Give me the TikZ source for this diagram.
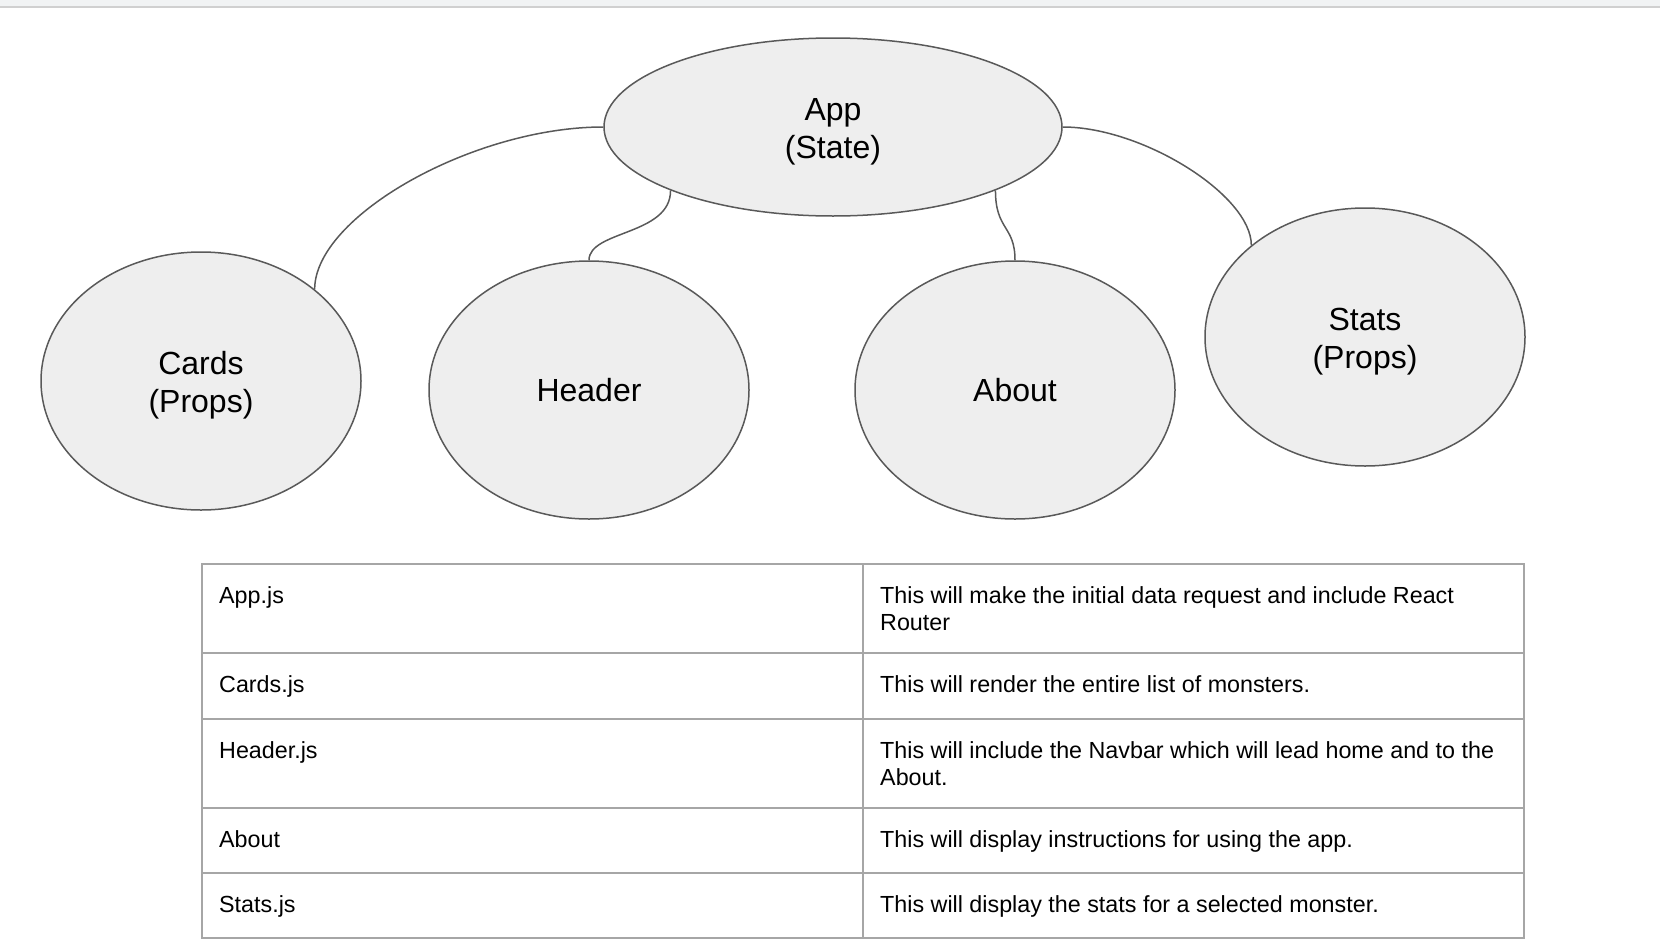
\documentclass[tikz,border=0pt]{standalone}
\usepackage{fontspec}
\setmainfont{Liberation Sans}
\usetikzlibrary{shapes.geometric}
\definecolor{edgec}{HTML}{595959}
\definecolor{fillc}{HTML}{EEEEEE}
\definecolor{gridc}{HTML}{A6A6A6}
\definecolor{bandc}{HTML}{F1F3F4}
\definecolor{bandl}{HTML}{D0D0D0}
\newcommand{\raiseby}{\rule{0pt}{32.5pt}}
\begin{document}
\begin{tikzpicture}[x=1pt,y=-1pt,
 bubble/.style={ellipse, draw=edgec, fill=fillc, line width=1.5pt, inner sep=0pt, minimum width=320pt, minimum height=258pt, align=center, font=\fontsize{32}{38}\selectfont},
 link/.style={draw=edgec, line width=1.5pt},
 gridline/.style={draw=gridc, line width=2pt},
 cell/.style={anchor=north west, inner sep=0pt, align=left, font=\fontsize{23.3}{27.5}\selectfont}
]
\useasboundingbox (0,0) rectangle (1660,940);
\fill[bandc] (0,0) rectangle (1660,6);
\fill[bandl] (0,6) rectangle (1660,7.5);

\node[bubble, minimum width=458pt, minimum height=178pt] (app) at (833,127) {\raiseby App\\(State)};
\node[bubble] (cards) at (201,381) {\raiseby Cards\\(Props)};
\node[bubble] (header) at (589,390) {Header};
\node[bubble] (about) at (1015,390) {About};
\node[bubble] (stats) at (1365,337) {\raiseby Stats\\(Props)};

\draw[link] (app.west) .. controls +(-130,0) and +(0,-73) .. (cards.north east);
\draw[link] (app.south west) .. controls +(0,45) and +(0,-30) .. (header.north);
\draw[link] (app.south east) .. controls +(0,40) and +(0,-35) .. (about.north);
\draw[link] (app.east) .. controls +(80,0) and +(0,-50) .. (stats.north west);

\draw[gridline] (202,564) rectangle (1524,938);
\draw[gridline] (863,564) -- (863,938);
\draw[gridline] (202,653) -- (1524,653);
\draw[gridline] (202,719) -- (1524,719);
\draw[gridline] (202,808) -- (1524,808);
\draw[gridline] (202,873) -- (1524,873);

\node[cell] (k1) at (219,586) {App.js};
\node[cell] (k2) at (219,675) {Cards.js};
\node[cell] (k3) at (219,741) {Header.js};
\node[cell] (k4) at (219,830) {About};
\node[cell] (k5) at (219,895) {Stats.js};
\node[cell] (v1) at (880,586) {This will make the initial data request and include React\\Router};
\node[cell] (v2) at (880,675) {This will render the entire list of monsters.};
\node[cell] (v3) at (880,741) {This will include the Navbar which will lead home and to the\\About.};
\node[cell] (v4) at (880,830) {This will display instructions for using the app.};
\node[cell] (v5) at (880,895) {This will display the stats for a selected monster.};
\end{tikzpicture}
\end{document}
